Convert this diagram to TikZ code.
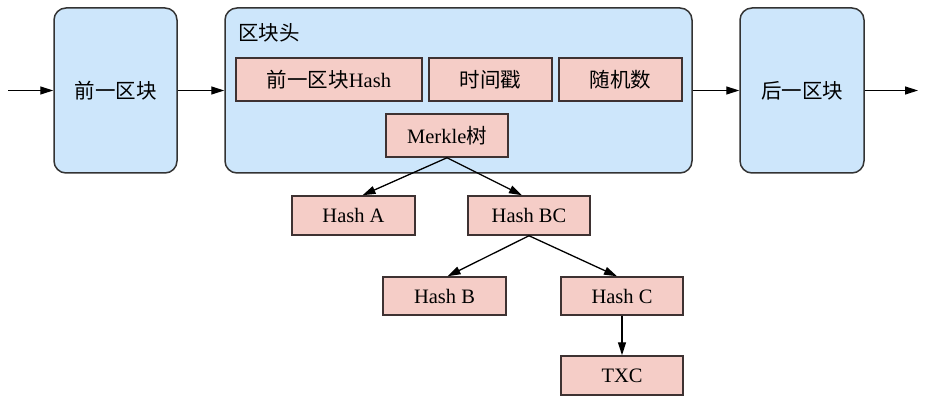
\documentclass[tikz,border=0pt]{standalone}
\usepackage{fontspec}
\setmainfont{Liberation Serif}
\newfontfamily\cjk{Noto Sans CJK SC}
\usetikzlibrary{arrows.meta,positioning}
\definecolor{blockblue}{HTML}{CDE6FB}
\definecolor{fieldpink}{HTML}{F5CDC7}
\definecolor{edgegray}{HTML}{333333}
\definecolor{fieldedge}{HTML}{3E3232}
\begin{document}
\begin{tikzpicture}[x=1pt,y=-1pt,
  blockbox/.style={draw=edgegray,line width=1.5pt,fill=blockblue,rounded corners=12pt,inner sep=0pt},
  fieldbox/.style={draw=fieldedge,line width=1.5pt,fill=fieldpink,inner sep=0pt,font=\fontsize{20.5}{22}\selectfont},
  conn/.style={draw=black,line width=1.3pt,-{Triangle[length=13pt,width=8pt]}},
  lbl/.style={font=\fontsize{20.5}{22}\selectfont,inner sep=0pt}]
\useasboundingbox (0,0) rectangle (925,403);
% blocks
\node[blockbox,minimum width=123pt,minimum height=165pt] (prev) at (115.5,90.5) {};
\node[lbl] at (prev.center) {\cjk 前一区块};
\node[blockbox,minimum width=467pt,minimum height=165pt] (head) at (458.5,90.5) {};
\node[lbl,anchor=west] (headlbl) at (238,33) {\cjk 区块头};
\node[blockbox,minimum width=124pt,minimum height=165pt] (next) at (802,90.5) {};
\node[lbl] at (next.center) {\cjk 后一区块};
\coordinate (in) at (8,90.5);
\coordinate (out) at (918,90.5);
% header fields
\node[fieldbox,minimum width=186pt,minimum height=43pt] (ph) at (329,79.5) {\cjk 前一区块\rmfamily Hash};
\node[fieldbox,minimum width=123pt,minimum height=43pt] (ts) at (490.5,79.5) {\cjk 时间戳};
\node[fieldbox,minimum width=123pt,minimum height=43pt] (nonce) at (620.5,79.5) {\cjk 随机数};
\node[fieldbox,minimum width=122pt,minimum height=43pt] (mk) at (447,135.5) {Merkle{\cjk 树}};
% tree
\node[fieldbox,minimum width=123pt,minimum height=39pt] (ha) at (353.5,215.5) {Hash A};
\node[fieldbox,minimum width=122pt,minimum height=39pt] (hbc) at (529,215.5) {Hash BC};
\node[fieldbox,minimum width=123pt,minimum height=38pt] (hb) at (444.5,296) {Hash B};
\node[fieldbox,minimum width=122pt,minimum height=38pt] (hc) at (622,296) {Hash C};
\node[fieldbox,minimum width=122pt,minimum height=39pt] (txc) at (622,375.5) {TXC};
% connectors
\draw[conn] (in) -- (prev.west);
\draw[conn] (prev.east) -- (head.west);
\draw[conn] (head.east) -- (next.west);
\draw[conn] (next.east) -- (out);
\draw[conn] (mk.south) -- ([xshift=9pt]ha.north);
\draw[conn] (mk.south) -- ([xshift=-7pt]hbc.north);
\draw[conn] (hbc.south) -- ([xshift=3pt]hb.north);
\draw[conn] (hbc.south) -- ([xshift=-5pt]hc.north);
\draw[conn] (hc.south) -- (txc.north);
\end{tikzpicture}
\end{document}
